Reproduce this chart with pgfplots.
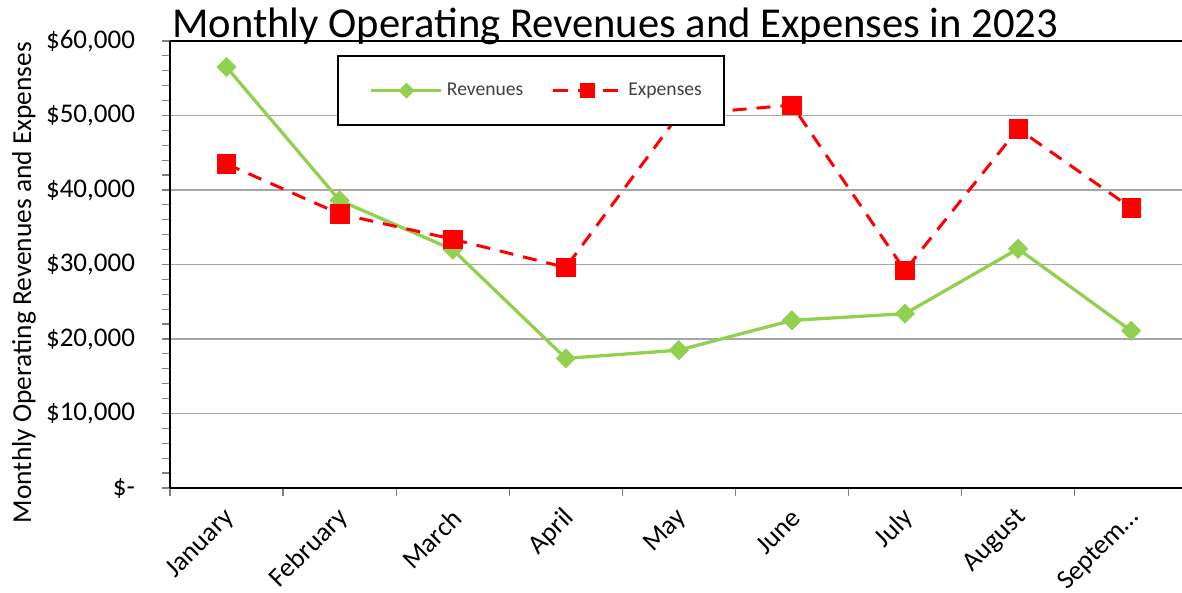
\documentclass[border=0pt]{standalone}
\usepackage{fontspec}
\setmainfont{Carlito}
\usepackage{pgfplots}
\pgfplotsset{compat=1.18}
\definecolor{revgreen}{RGB}{146,208,80}
\definecolor{gridgray}{RGB}{166,166,166}
\definecolor{legtext}{RGB}{64,64,64}
\begin{document}
\begin{tikzpicture}
\begin{axis}[
    at={(0,0)}, anchor=south west,
    scale only axis,
    width=506pt, height=223.5pt,
    xmin=-0.5, xmax=8.45,
    ymin=0, ymax=60000,
    axis lines=left,
    axis line style={-, black, line width=1pt},
    xtick={0,...,8},
    xticklabels={January,February,March,April,May,June,July,August,Septem…},
    minor xtick={-0.5,0.5,...,7.5},
    major x tick style={draw=none},
    ytick={0,10000,...,60000},
    yticklabels={{\$-},{\$10,000},{\$20,000},{\$30,000},{\$40,000},{\$50,000},{\$60,000}},
    minor y tick num=4,
    scaled y ticks=false,
    tick align=outside,
    major tick length=4pt, minor tick length=4pt,
    every tick/.append style={gray, line width=0.6pt},
    ymajorgrids,
    grid style={gridgray, line width=0.75pt},
    tick label style={font=\fontsize{13.5}{15}\selectfont},
    yticklabel style={xshift=-10pt},
    xticklabel style={xshift=4.5pt, yshift=-6.5pt, rotate=45, anchor=east},
    /pgf/number format/assume math mode=true,
    clip=false,
    legend columns=2,
    legend image code/.code={\path (-7pt,0pt); \draw[mark repeat=2,mark phase=2] plot coordinates {(0pt,0pt)(17.5pt,0pt)(35pt,0pt)};},
    legend style={
        at={(axis description cs:0.165,0.969)}, anchor=north west,
        draw=black, line width=1pt,
        font=\fontsize{9.8}{12}\selectfont, text=legtext,
        inner xsep=9pt, inner ysep=11.5pt,
        /tikz/every even column/.append style={column sep=5pt},
    },
]

\addlegendimage{revgreen, line width=1.5pt, mark=square*, mark size=2.1pt, mark options={rotate=45}}
\addlegendentry{Revenues}
\addlegendimage{red, line width=1.5pt, dash pattern=on 7.5pt off 5pt, mark=square*, mark size=3pt, mark options={solid}}
\addlegendentry{Expenses}

\addplot[forget plot, revgreen, line width=1.65pt, mark=square*, mark size=3.4pt,
    mark options={rotate=45, line width=0.3pt}]
coordinates {
    (0,56500) (1,38600) (2,32000) (3,17400) (4,18500)
    (5,22500) (6,23400) (7,32100) (8,21100)
};

\addplot[forget plot, red, line width=1.5pt, dash pattern=on 7pt off 5pt,
    mark=square*, mark size=4.6pt, mark options={solid, line width=0.3pt}]
coordinates {
    (0,43500) (1,36800) (2,33400) (3,29600) (4,50100)
    (5,51400) (6,29200) (7,48200) (8,37600)
};

\draw[black, line width=1pt] (rel axis cs:0,1) -- (rel axis cs:1,1);
\node[anchor=base west, inner sep=0pt, font=\fontsize{21.3}{25}\selectfont]
    at (rel axis cs:0,1) [xshift=1pt, yshift=1.5pt]
    {Monthly Operating Revenues and Expenses in 2023};
\node[font=\fontsize{13.7}{15}\selectfont, xshift=-73pt, yshift=-9pt, rotate=90]
    at (rel axis cs:0,0.5) {Monthly Operating Revenues and Expenses};
\end{axis}
\pgfresetboundingbox
\path[use as bounding box] (-85pt,-52.5pt) rectangle (506pt,244pt);
\end{tikzpicture}
\end{document}
